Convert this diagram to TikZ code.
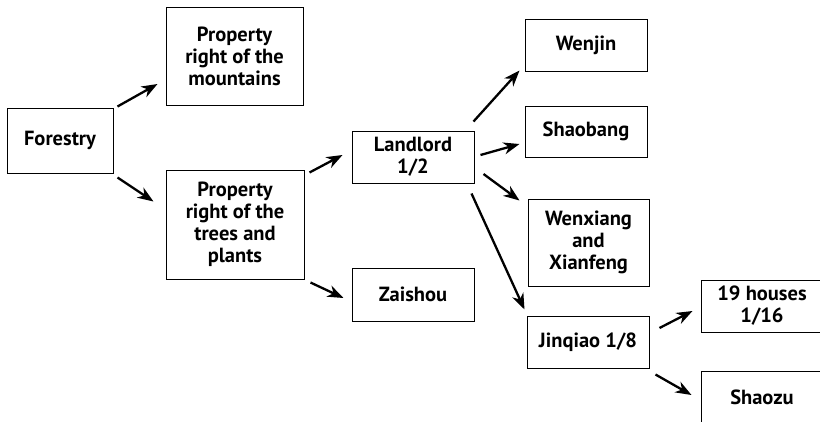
\documentclass[tikz,border=0pt]{standalone}
\usepackage{fontspec}
\setmainfont{PT Sans}
\usetikzlibrary{arrows.meta,calc}
\begin{document}
\begin{tikzpicture}[x=1pt,y=-1pt,
  box/.style={draw,line width=1pt,rectangle,align=center,inner sep=0pt,
    font=\fontsize{20.5}{22}\selectfont\bfseries},
  arr/.style={line width=2.3pt,-{Stealth[length=16pt,width=12pt,inset=5pt]}}]
\useasboundingbox (0,0) rectangle (820,421);
\clip (0,0) rectangle (820,421);
\node[box,minimum width=106pt,minimum height=65pt] (forestry) at (60,140.5) {Forestry};
\node[box,minimum width=137pt,minimum height=98pt] (mount) at (234.5,56) {Property\\right of the\\mountains};
\node[box,minimum width=138pt,minimum height=109pt] (trees) at (235,224.5) {Property\\right of the\\trees and\\plants};
\node[box,minimum width=122pt,minimum height=52pt] (landlord) at (413,157) {Landlord\\1/2};
\node[box,minimum width=122pt,minimum height=53pt] (zaishou) at (413,294.5) {Zaishou};
\node[box,minimum width=122pt,minimum height=52pt] (wenjin) at (586,45) {Wenjin};
\node[box,minimum width=122pt,minimum height=51pt] (shaobang) at (586,131.5) {Shaobang};
\node[box,minimum width=121pt,minimum height=87pt] (wenxiang) at (588.5,242.5) {Wenxiang\\and\\Xianfeng};
\node[box,minimum width=122pt,minimum height=52pt] (jinqiao) at (588,342) {Jinqiao 1/8};
\node[box,minimum width=122pt,minimum height=52pt] (houses) at (762,306) {19 houses\\1/16};
\node[box,minimum width=122pt,minimum height=52pt] (shaozu) at (762,397) {Shaozu};
\draw[arr] ($(forestry.north east)+(4,-1)$) -- ($(mount.west)+(-8,28)$);
\draw[arr] ($(forestry.south east)+(4,4)$) -- ($(trees.north west)+(-12,32)$);
\draw[arr] ($(trees.north east)+(5,3)$) -- ($(landlord.west)+(-9,-2)$);
\draw[arr] ($(trees.south east)+(6,3)$) -- ($(zaishou.west)+(-8,3.5)$);
\draw[arr] ($(landlord.north east)+(-1,-9)$) -- ($(wenjin.south west)+(-5,-1)$);
\draw[arr] ($(landlord.east)+(6,-2)$) -- ($(shaobang.west)+(-5,12.5)$);
\draw[arr] ($(landlord.east)+(9,17)$) -- ($(wenxiang.north west)+(-8,2)$);
\draw[arr] ($(landlord.south east)+(-3,10)$) -- ($(jinqiao.north west)+(-2,-6)$);
\draw[arr] ($(jinqiao.east)+(10,-14)$) -- ($(houses.west)+(-8,5)$);
\draw[arr] ($(jinqiao.south east)+(6,6)$) -- ($(shaozu.west)+(-9,-2)$);
\end{tikzpicture}
\end{document}
